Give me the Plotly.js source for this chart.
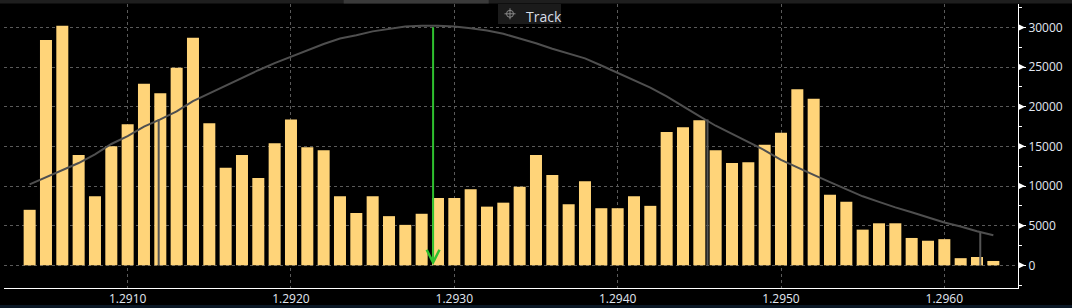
<!DOCTYPE html>
<html>
<head>
<meta charset="utf-8">
<script src="https://cdn.plot.ly/plotly-3.0.1.min.js"></script>
<style>
html,body{margin:0;padding:0;background:#000;}
#chart{width:1072px;height:308px;}
</style>
</head>
<body>
<div id="chart"></div>
<script>
// Price levels (bar centres)
const prices = [
  1.2904, 1.2905, 1.2906, 1.2907, 1.2908, 1.2909, 1.2910, 1.2911, 1.2912, 1.2913,
  1.2914, 1.2915, 1.2916, 1.2917, 1.2918, 1.2919, 1.2920, 1.2921, 1.2922, 1.2923,
  1.2924, 1.2925, 1.2926, 1.2927, 1.2928, 1.2929, 1.2930, 1.2931, 1.2932, 1.2933,
  1.2934, 1.2935, 1.2936, 1.2937, 1.2938, 1.2939, 1.2940, 1.2941, 1.2942, 1.2943,
  1.2944, 1.2945, 1.2946, 1.2947, 1.2948, 1.2949, 1.2950, 1.2951, 1.2952, 1.2953,
  1.2954, 1.2955, 1.2956, 1.2957, 1.2958, 1.2959, 1.2960, 1.2961, 1.2962, 1.2963
];
// Volume at each price
const volumes = [
  7000, 28400, 30200, 13900, 8700, 15000, 17800, 22900, 21700, 24900,
  28700, 17900, 12300, 13900, 11000, 15400, 18400, 14900, 14500, 8700,
  6600, 8700, 6200, 5100, 6500, 8500, 8500, 9600, 7400, 7900,
  9900, 13900, 11400, 7700, 10600, 7200, 7200, 8700, 7500, 16800,
  17400, 18300, 14500, 12900, 13000, 15200, 16700, 22200, 21000, 8900,
  8000, 4500, 5300, 5300, 3450, 3100, 3300, 900, 1050, 550
];
// Fitted distribution curve
const curve = [
  10200, 11100, 12000, 12900, 14000, 15300, 16300, 17500, 18400, 19400,
  20700, 21700, 22700, 23700, 24600, 25500, 26300, 27200, 27900, 28600,
  29000, 29500, 29800, 30100, 30200, 30200, 30100, 29900, 29600, 29200,
  28600, 28000, 27300, 26700, 26100, 25200, 24300, 23400, 22400, 21300,
  20000, 18800, 17600, 16600, 15600, 14500, 13300, 12300, 11400, 10500,
  9600, 8700, 8000, 7300, 6700, 6000, 5400, 4900, 4300, 3800
];
// Statistic markers
const meanPrice = 1.29287;
const meanHeight = 30200;
const sigmaPrices = [1.29119, 1.29455, 1.29622];
const sigmaHeights = [18400, 18400, 4100];
// Axis ticks
const xTicks = [1.2910, 1.2920, 1.2930, 1.2940, 1.2950, 1.2960];
const yTicks = [0, 5000, 10000, 15000, 20000, 25000, 30000];

const textColor = '#e2e8f2';
const gridColor = '#5a5a5a';

const traces = [
  {
    type: 'bar', x: prices, y: volumes,
    marker: {color: '#ffd479', line: {width: 0}},
    hoverinfo: 'skip'
  },
  {
    type: 'scatter', mode: 'lines', x: prices, y: curve,
    line: {color: '#4f4f4f', width: 2},
    hoverinfo: 'skip'
  }
];

const shapes = [];
sigmaPrices.forEach((p, i) => {
  shapes.push({type: 'line', xref: 'x', yref: 'y', x0: p, x1: p, y0: 0, y1: sigmaHeights[i],
    line: {color: '#555555', width: 2}, layer: 'above'});
});
// tick triangles on the right axis
yTicks.forEach(v => {
  shapes.push({type: 'path', xref: 'paper', yref: 'y', xsizemode: 'pixel', xanchor: 1,
    ysizemode: 'pixel', yanchor: v, path: 'M0,-3.5 L7,0 L0,3.5 Z',
    fillcolor: '#ffffff', line: {width: 0}, layer: 'above'});
});
// header strip
shapes.push({type: 'rect', xref: 'paper', yref: 'paper', x0: -0.01, x1: 1.06,
  ysizemode: 'pixel', yanchor: 1, y0: 0.5, y1: 5, fillcolor: '#1e1e1e', line: {width: 0}, layer: 'below'});
shapes.push({type: 'rect', xref: 'paper', yref: 'paper', x0: 0.335, x1: 0.478,
  ysizemode: 'pixel', yanchor: 1, y0: 0.5, y1: 5, fillcolor: '#3a3a3a', line: {width: 0}, layer: 'below'});
// bottom strip
shapes.push({type: 'rect', xref: 'paper', yref: 'paper', x0: -0.01, x1: 1.06,
  ysizemode: 'pixel', yanchor: 0, y0: -17, y1: -22, fillcolor: '#0b1826', line: {width: 0}, layer: 'below'});
// Track button box
const bx = (498 - 4) / 1014;
shapes.push({type: 'rect', xref: 'paper', yref: 'paper', xsizemode: 'pixel', xanchor: bx, x0: 0, x1: 63,
  ysizemode: 'pixel', yanchor: 1, y0: -20, y1: 0, fillcolor: '#1b1b1b', line: {width: 0}, layer: 'above'});
// crosshair icon
const ix = (510 - 4) / 1014;
shapes.push({type: 'circle', xref: 'paper', yref: 'paper', xsizemode: 'pixel', xanchor: ix, x0: -3.5, x1: 3.5,
  ysizemode: 'pixel', yanchor: 1, y0: -13.3, y1: -6.3, line: {color: '#8a8a8a', width: 1}, layer: 'above'});
shapes.push({type: 'line', xref: 'paper', yref: 'paper', xsizemode: 'pixel', xanchor: ix, x0: -5.5, x1: 5.5,
  ysizemode: 'pixel', yanchor: 1, y0: -9.8, y1: -9.8, line: {color: '#8a8a8a', width: 1}, layer: 'above'});
shapes.push({type: 'line', xref: 'paper', yref: 'paper', xsizemode: 'pixel', xanchor: ix, x0: 0, x1: 0,
  ysizemode: 'pixel', yanchor: 1, y0: -15.3, y1: -4.3, line: {color: '#8a8a8a', width: 1}, layer: 'above'});

const annotations = [
  {
    x: meanPrice, y: 0, xref: 'x', yref: 'y',
    ax: meanPrice, ay: meanHeight, axref: 'x', ayref: 'y',
    text: '', showarrow: true, arrowhead: 5, arrowsize: 1.25, arrowwidth: 2,
    arrowcolor: '#2fc02f', standoff: 0, startstandoff: 0
  },
  {
    x: (524 - 4) / 1014, y: 1, xref: 'paper', yref: 'paper', xanchor: 'left', yanchor: 'top',
    yshift: -1, text: 'Track', showarrow: false,
    font: {family: 'Open Sans, sans-serif', size: 14, color: '#d8dee9'}
  }
];

const layout = {
  width: 1072, height: 308,
  paper_bgcolor: '#000000', plot_bgcolor: '#000000',
  margin: {l: 4, r: 54, t: 4, b: 20},
  showlegend: false,
  bargap: 0.265,
  font: {family: 'Open Sans, sans-serif', size: 12, color: textColor},
  xaxis: {
    range: [1.290243, 1.296451],
    tickvals: xTicks, tickformat: '.4f',
    showgrid: true, gridcolor: gridColor, griddash: 'dot', gridwidth: 1,
    showline: true, linecolor: '#ffffff', linewidth: 1,
    ticks: '', zeroline: false,
    tickfont: {family: 'Open Sans, sans-serif', size: 12, color: textColor}
  },
  yaxis: {
    side: 'right', range: [-2860, 32950],
    tickvals: yTicks, tickformat: 'd',
    showgrid: true, gridcolor: gridColor, griddash: 'dot', gridwidth: 1,
    showline: true, linecolor: '#ffffff', linewidth: 1,
    ticks: 'outside', ticklen: 7, tickcolor: '#ffffff', tickwidth: 1,
    minor: {dtick: 2500, tick0: 0, ticks: 'outside', ticklen: 3, tickcolor: '#ffffff', showgrid: false},
    zeroline: false,
    tickfont: {family: 'Open Sans, sans-serif', size: 12, color: textColor}
  },
  shapes: shapes,
  annotations: annotations
};

Plotly.newPlot('chart', traces, layout, {staticPlot: true, displayModeBar: false});
</script>
</body>
</html>
